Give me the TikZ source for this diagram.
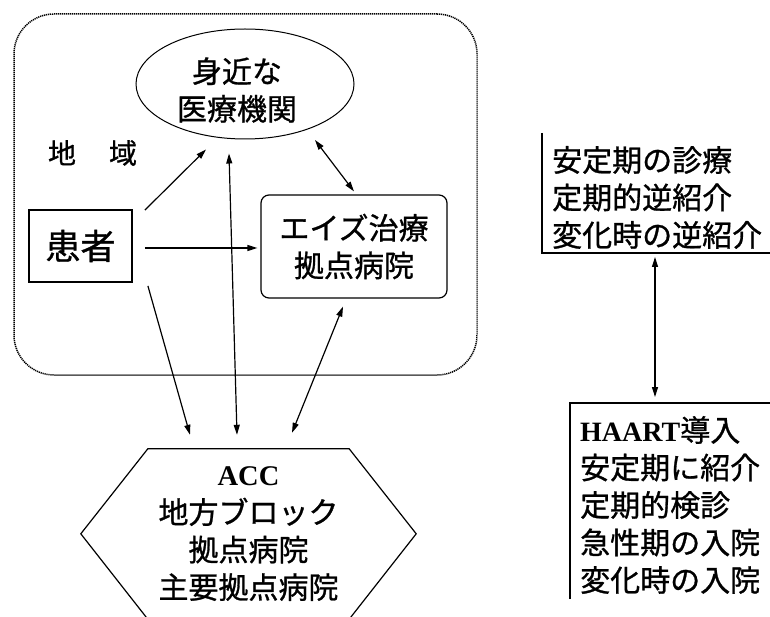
\documentclass[tikz,border=0pt]{standalone}
\usepackage{fontspec}
\setmainfont{Liberation Serif}
\newfontfamily\jp[FakeBold=0.9]{Noto Sans CJK JP}
\usetikzlibrary{arrows.meta,shapes.geometric}
\begin{document}
\begin{tikzpicture}[x=1pt,y=-1pt,
  jtext/.style={font=\jp\fontsize{30}{37.5}\selectfont, inner sep=0pt},
  con/.style={line width=1.2pt, -{Triangle[length=10pt,width=6pt]}},
  bicon/.style={line width=1.2pt, {Triangle[length=10pt,width=6pt]}-{Triangle[length=10pt,width=6pt]}},
  edge/.style={line width=1.2pt}]
\clip (0,0) rectangle (770,617);
\fill[white] (0,0) rectangle (770,617);
% region frame
\node[draw, dash pattern=on 1.2pt off 0.8pt, line width=1.5pt, rounded corners=40pt,
      minimum width=463pt, minimum height=361pt, inner sep=0pt] (region) at (245.5,194.5) {};
% nearby clinic
\node[draw, ellipse, line width=1pt, minimum width=218pt, minimum height=110pt, inner sep=0pt] (ell) at (245,84) {};
\node[jtext, align=center] (elltext) at (237,90) {身近な\\医療機関};
\node[jtext, font=\jp\fontsize{28}{30}\selectfont] (area) at (92.5,153) {地\hspace{33pt}域};
% patient
\node[draw, line width=1.8pt, minimum width=103pt, minimum height=72pt, inner sep=0pt,
      font=\jp\fontsize{35}{40}\selectfont] (patient) at (80.5,246) {患者};
% treatment hospital
\node[draw, edge, rounded corners=8pt, minimum width=186pt, minimum height=103pt,
      jtext, align=center] (treat) at (354,246.5) {エイズ治療\\拠点病院};
% ACC hexagon
\node[jtext, align=center, minimum width=201pt, minimum height=170pt] (acc) at (248.5,534)
  {{\rmfamily\bfseries\fontsize{28.5}{37.5}\selectfont ACC}\\地方ブロック\\拠点病院\\主要拠点病院};
\draw[edge] (acc.north west) -- (acc.north east) -- ([shift={(67,85)}]acc.north east)
  -- (acc.south east) -- (acc.south west) -- ([shift={(-67,85)}]acc.north west) -- cycle;
% right boxes
\node[jtext, align=left, anchor=west] (r1) at (552,197.5) {安定期の診療\\定期的逆紹介\\変化時の逆紹介};
\draw[edge] (542,133) -- (542,253) -- (770,253);
\node[jtext, align=left, anchor=west] (r2) at (580,505)
  {{\rmfamily\bfseries\fontsize{28}{37.5}\selectfont HAART}導入\\安定期に紹介\\定期的検診\\急性期の入院\\変化時の入院};
\draw[edge] (570,599) -- (570,403) -- (770,403);
\coordinate (c1) at (655,253);
\coordinate (c2) at (655,403);
\draw[bicon, shorten <=4pt, shorten >=6pt] (c1) -- (c2);
% connectors
\draw[con] ([shift={(12,1)}]patient.north east) -- ([shift={(-39,10)}]ell.south);
\draw[bicon] ([shift={(-16,14)}]ell.south) -- ([shift={(-11.5,-14)}]acc.north);
\draw[con] ([shift={(12,2)}]patient.east) -- ([shift={(-3,1.5)}]treat.west);
\draw[bicon] ([shift={(70,56)}]ell.center) -- ([shift={(0,-3)}]treat.north);
\draw[con] ([shift={(15,3)}]patient.south east) -- ([shift={(-58.5,-14)}]acc.north);
\draw[bicon] ([shift={(-11,8)}]treat.south) -- ([shift={(43.5,-16)}]acc.north);
\end{tikzpicture}
\end{document}
